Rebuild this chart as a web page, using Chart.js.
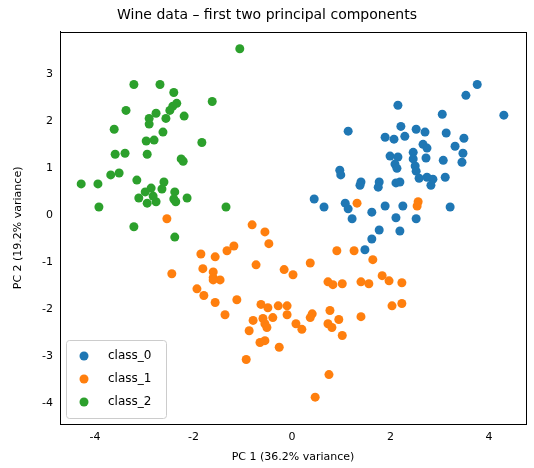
<!DOCTYPE html><html><head><script src="https://cdn.jsdelivr.net/npm/chart.js@4"></script>
<style>body{margin:0;background:#fff}#w{width:534px;height:468px}</style></head><body><div id="w"><canvas id="c"></canvas></div>
<script>
const class0 = [[3.76,2.77],[3.53,2.54],[4.30,2.12],[2.15,2.33],[3.05,2.14],[1.14,1.78],[2.21,1.88],[2.52,1.82],[2.70,1.76],[3.13,1.74],[1.89,1.65],[2.07,1.61],[2.29,1.67],[3.49,1.63],[3.31,1.46],[2.66,1.50],[2.74,1.42],[2.46,1.33],[3.47,1.31],[1.99,1.25],[2.15,1.23],[2.46,1.19],[2.72,1.21],[3.07,1.16],[3.45,1.12],[2.09,1.08],[2.13,0.99],[2.50,1.04],[2.52,0.93],[0.97,0.95],[0.99,0.85],[1.40,0.70],[1.38,0.63],[1.77,0.70],[1.75,0.59],[2.11,0.68],[2.19,0.70],[2.58,0.78],[2.74,0.80],[2.86,0.76],[2.82,0.63],[3.11,0.80],[0.45,0.34],[0.65,0.17],[1.08,0.25],[1.14,0.13],[1.22,-0.08],[1.62,0.06],[1.89,0.19],[2.25,0.19],[2.11,-0.06],[2.52,-0.08],[3.21,0.17],[1.77,-0.32],[2.19,-0.34],[1.62,-0.51],[1.48,-0.74]];
const class1 = [[1.32,0.25],[2.56,0.28],[2.54,0.19],[-2.54,-0.08],[-0.81,-0.21],[-0.55,-0.36],[-0.47,-0.61],[-1.18,-0.66],[-1.32,-0.76],[-1.85,-0.83],[-1.56,-0.89],[0.91,-0.76],[1.26,-0.76],[1.64,-0.95],[0.37,-1.02],[-0.73,-1.06],[-1.81,-1.14],[-2.44,-1.25],[-1.60,-1.21],[-0.16,-1.16],[0.02,-1.27],[-1.60,-1.33],[-1.46,-1.38],[-1.60,-1.38],[1.83,-1.29],[1.97,-1.40],[2.23,-1.44],[0.73,-1.42],[0.83,-1.48],[1.02,-1.46],[1.40,-1.42],[1.56,-1.46],[-1.93,-1.57],[-1.79,-1.71],[-1.56,-1.86],[-1.12,-1.80],[-1.36,-2.12],[-0.63,-1.90],[-0.49,-1.97],[-0.28,-1.93],[-0.10,-1.93],[-0.10,-2.12],[2.03,-1.93],[2.23,-1.88],[0.77,-2.03],[0.41,-2.10],[0.37,-2.18],[-0.79,-2.24],[-0.59,-2.20],[-0.39,-2.18],[-0.55,-2.31],[-0.51,-2.39],[0.08,-2.31],[0.20,-2.43],[0.73,-2.31],[0.81,-2.39],[0.95,-2.22],[1.40,-2.16],[1.02,-2.56],[-0.87,-2.46],[-0.65,-2.71],[-0.55,-2.67],[-0.26,-2.81],[-0.93,-3.07],[0.75,-3.39],[0.47,-3.87]];
const class2 = [[-1.06,3.53],[-3.21,2.77],[-2.68,2.77],[-2.40,2.60],[-2.34,2.37],[-2.42,2.31],[-2.48,2.22],[-1.62,2.41],[-3.37,2.22],[-2.76,2.16],[-2.90,2.05],[-2.56,2.05],[-2.19,2.10],[-2.90,1.93],[-3.61,1.82],[-2.62,1.76],[-2.96,1.57],[-2.80,1.59],[-1.83,1.54],[-3.59,1.29],[-3.39,1.31],[-2.94,1.29],[-2.25,1.19],[-2.21,1.14],[-3.68,0.85],[-3.51,0.89],[-4.28,0.66],[-3.94,0.66],[-3.15,0.74],[-2.60,0.70],[-2.64,0.55],[-2.86,0.57],[-2.98,0.49],[-3.11,0.36],[-2.94,0.25],[-2.76,0.28],[-2.82,0.40],[-2.38,0.49],[-2.40,0.34],[-2.36,0.28],[-2.13,0.36],[-3.92,0.17],[-1.34,0.17],[-3.21,-0.25],[-2.38,-0.47]];
const names = ['class_0','class_1','class_2'];
const colors = ['#1f77b4','#ff7f0e','#2ca02c'];
const xTicks = [-4,-2,0,2,4];
const yTicks = [-4,-3,-2,-1,0,1,2,3];
const sets = [class0,class1,class2].map((d,i)=>({label:names[i],data:d.map(p=>({x:p[0],y:p[1]})),backgroundColor:colors[i],borderColor:colors[i],pointRadius:4.5,pointHoverRadius:4.5,borderWidth:0}));
const legendPlug={id:'lg',afterDraw(c){const a=c.chartArea,g=c.ctx;g.save();g.strokeStyle='#000';g.lineWidth=1;g.strokeRect(Math.round(a.left)+0.5,Math.round(a.top)+0.5,Math.round(a.right-a.left),Math.round(a.bottom-a.top));const x=a.left+6,y=a.bottom-84;g.fillStyle='rgba(255,255,255,0.8)';g.strokeStyle='#ccc';g.beginPath();g.roundRect(x+0.5,y+0.5,100,78,3);g.fill();g.stroke();g.font='12px "DejaVu Sans"';g.textBaseline='middle';names.forEach((n,i)=>{const yy=y+16+i*23;g.fillStyle=colors[i];g.beginPath();g.arc(x+18,yy,4.5,0,7);g.fill();g.fillStyle='#000';g.fillText(n,x+42,yy);});g.restore();}};
const tickStyle={color:'#000',font:{family:'DejaVu Sans',size:11}};
new Chart(document.getElementById('c'),{type:'scatter',data:{datasets:sets},plugins:[legendPlug],options:{animation:false,responsive:true,maintainAspectRatio:false,layout:{padding:{right:8,left:8,top:0,bottom:0}},
plugins:{legend:{display:false},tooltip:{enabled:false},title:{display:true,text:'Wine data – first two principal components',color:'#000',font:{family:'DejaVu Sans',size:14,weight:'normal'},padding:{top:7,bottom:8}}},
scales:{x:{min:-4.71,max:4.75,afterBuildTicks:s=>{s.ticks=xTicks.map(v=>({value:v}))},afterFit:s=>{s.height=44},grid:{display:false,drawTicks:true,tickLength:4,tickColor:'#000'},border:{color:'#000'},ticks:tickStyle,title:{display:true,text:'PC 1 (36.2% variance)',color:'#000',font:{family:'DejaVu Sans',size:11},padding:{top:2}}},
y:{min:-4.44,max:3.89,afterBuildTicks:s=>{s.ticks=yTicks.map(v=>({value:v}))},afterFit:s=>{s.width=52},grid:{display:false,drawTicks:true,tickLength:4,tickColor:'#000'},border:{color:'#000'},ticks:tickStyle,title:{display:true,text:'PC 2 (19.2% variance)',color:'#000',font:{family:'DejaVu Sans',size:11},padding:{bottom:2}}}}}});
</script></body></html>
